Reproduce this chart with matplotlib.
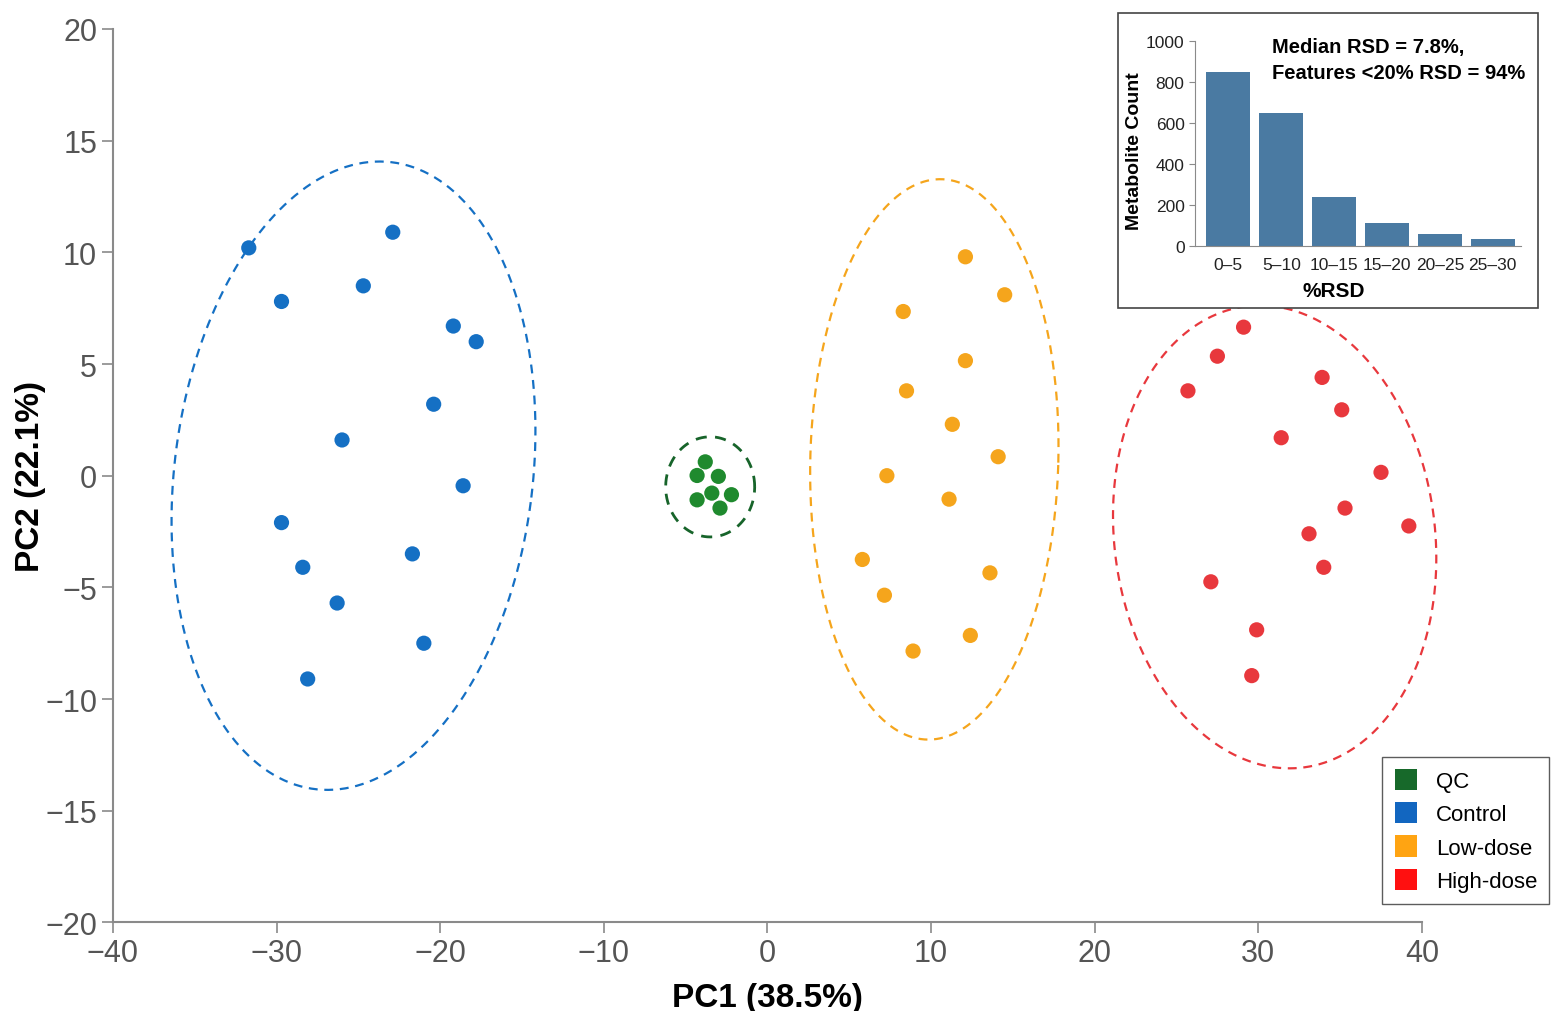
import numpy as np
import matplotlib.pyplot as plt
from matplotlib.patches import Rectangle, Patch

plt.rcParams['font.family'] = ['Liberation Sans', 'DejaVu Sans']

# PCA scores
qc_x = [-3.8, -4.3, -3.0, -3.4, -4.3, -2.2, -2.9]
qc_y = [0.62, 0.01, -0.03, -0.78, -1.08, -0.85, -1.45]

ctrl_x = [-31.7, -22.9, -29.7, -24.7, -19.2, -17.8, -20.4, -26.0, -18.6, -29.7, -21.7, -28.4, -26.3, -21.0, -28.1]
ctrl_y = [10.2, 10.9, 7.8, 8.5, 6.7, 6.0, 3.2, 1.6, -0.45, -2.1, -3.5, -4.1, -5.7, -7.5, -9.1]

low_x = [12.1, 14.5, 8.3, 12.1, 8.5, 11.3, 14.1, 7.3, 11.1, 5.8, 13.6, 7.15, 12.4, 8.9]
low_y = [9.8, 8.1, 7.35, 5.15, 3.8, 2.3, 0.85, 0.0, -1.05, -3.75, -4.35, -5.35, -7.15, -7.85]

high_x = [29.1, 27.5, 25.7, 33.9, 35.1, 31.4, 37.5, 35.3, 39.2, 33.1, 34.0, 27.1, 29.9, 29.6]
high_y = [6.65, 5.35, 3.8, 4.4, 2.95, 1.7, 0.15, -1.45, -2.25, -2.6, -4.1, -4.75, -6.9, -8.95]

groups = ['QC', 'Control', 'Low-dose', 'High-dose']
point_colors = ['#1f8a2e', '#1570c4', '#f5a51c', '#e8383d']
ring_colors = ['#17642a', '#1570c4', '#f5a51c', '#e8383d']
legend_colors = ['#17692a', '#1266c0', '#ffa412', '#ff1010']

# ellipse: centre (x, y), semi-axes in x units (screen-isotropic), angle in deg
ell_cx = [-3.5, -25.3, 10.2, 31.0]
ell_cy = [-0.5, 0.0, 0.73, -2.74]
ell_a = [2.72, 10.95, 7.58, 9.8]
ell_b = [3.06, 19.3, 17.13, 14.2]
ell_ang = [0, -7, -1.5, 7]

# inset histogram
rsd_bins = ['0–5', '5–10', '10–15', '15–20', '20–25', '25–30']
rsd_counts = [850, 650, 240, 115, 58, 34]

fig = plt.figure(figsize=(15.54, 10.12), dpi=100)
ax = fig.add_axes([0.0727, 0.0875, 0.8423, 0.8829])

xs = [qc_x, ctrl_x, low_x, high_x]
ys = [qc_y, ctrl_y, low_y, high_y]
for i in range(4):
    ax.scatter(xs[i], ys[i], s=120, color=point_colors[i], edgecolors='none', zorder=3)

ax.set_xlim(-40, 40)
ax.set_ylim(-20, 20)

# aspect factor so ellipses are drawn as seen on screen
fw, fh = fig.get_size_inches() * fig.dpi
pos = ax.get_position()
k = (pos.height * fh / 40) / (pos.width * fw / 80)

t = np.linspace(0, 2 * np.pi, 400)
for i in range(4):
    th = np.radians(ell_ang[i])
    ex = ell_a[i] * np.cos(t) * np.cos(th) - ell_b[i] * np.sin(t) * np.sin(th)
    ey = ell_a[i] * np.cos(t) * np.sin(th) + ell_b[i] * np.sin(t) * np.cos(th)
    lw = 2.0 if i == 0 else 1.6
    ax.plot(ell_cx[i] + ex, ell_cy[i] + ey / k, color=ring_colors[i], lw=lw,
            linestyle=(0, (4, 3)), zorder=2, clip_on=False)

for s in ['top', 'right']:
    ax.spines[s].set_visible(False)
for s in ['left', 'bottom']:
    ax.spines[s].set_color('#8a8a8a')
    ax.spines[s].set_linewidth(1.5)
ax.set_xticks(range(-40, 41, 10))
ax.set_yticks(range(-20, 21, 5))
ax.tick_params(colors='#8a8a8a', labelcolor='#555555', labelsize=22, length=8, width=1.2)
ax.set_xlabel('PC1 (38.5%)', fontsize=24, fontweight='bold', labelpad=10)
ax.set_ylabel('PC2 (22.1%)', fontsize=24, fontweight='bold')
ax.yaxis.set_label_coords(-0.051, 0.5)

handles = [Patch(facecolor=c, edgecolor='none') for c in legend_colors]
leg = fig.legend(handles, groups, loc='lower right', bbox_to_anchor=(0.997, 0.1057),
                 borderaxespad=0, fontsize=16, frameon=True, fancybox=False,
                 handlelength=1.0, handleheight=1.1, handletextpad=0.85,
                 labelspacing=0.45, borderpad=0.55)
leg.get_frame().set_edgecolor('#333333')
leg.get_frame().set_linewidth(1.0)

# inset frame + histogram
fig.add_artist(Rectangle((0.7194, 0.6947), 0.2703, 0.2915, transform=fig.transFigure,
                         facecolor='white', edgecolor='#444444', lw=1.2, zorder=5))
ins = fig.add_axes([0.769, 0.7556, 0.210, 0.2032], zorder=6)
ins.bar(range(len(rsd_bins)), rsd_counts, width=0.83, color='#4a7aa2')
ins.set_xlim(-0.63, 5.54)
ins.set_ylim(0, 1000)
ins.set_xticks(range(len(rsd_bins)))
ins.set_xticklabels(rsd_bins)
ins.set_yticks(range(0, 1001, 200))
for s in ['top', 'right']:
    ins.spines[s].set_visible(False)
for s in ['left', 'bottom']:
    ins.spines[s].set_color('#8a8a8a')
ins.tick_params(labelsize=12.5, length=4, colors='#8a8a8a', labelcolor='#222222')
ins.tick_params(axis='x', length=0, pad=8)
ins.set_xlabel('%RSD', fontsize=15, fontweight='bold')
ins.xaxis.set_label_coords(0.426, -0.17)
ins.set_ylabel('Metabolite Count', fontsize=14, fontweight='bold')
ins.yaxis.set_label_coords(-0.158, 0.468)
ins.text(0.236, 1.02, 'Median RSD = 7.8%,\nFeatures <20% RSD = 94%', transform=ins.transAxes,
         ha='left', va='top', fontsize=14.5, fontweight='bold', linespacing=1.5)

fig.savefig('out.png', dpi=100, facecolor='white')
